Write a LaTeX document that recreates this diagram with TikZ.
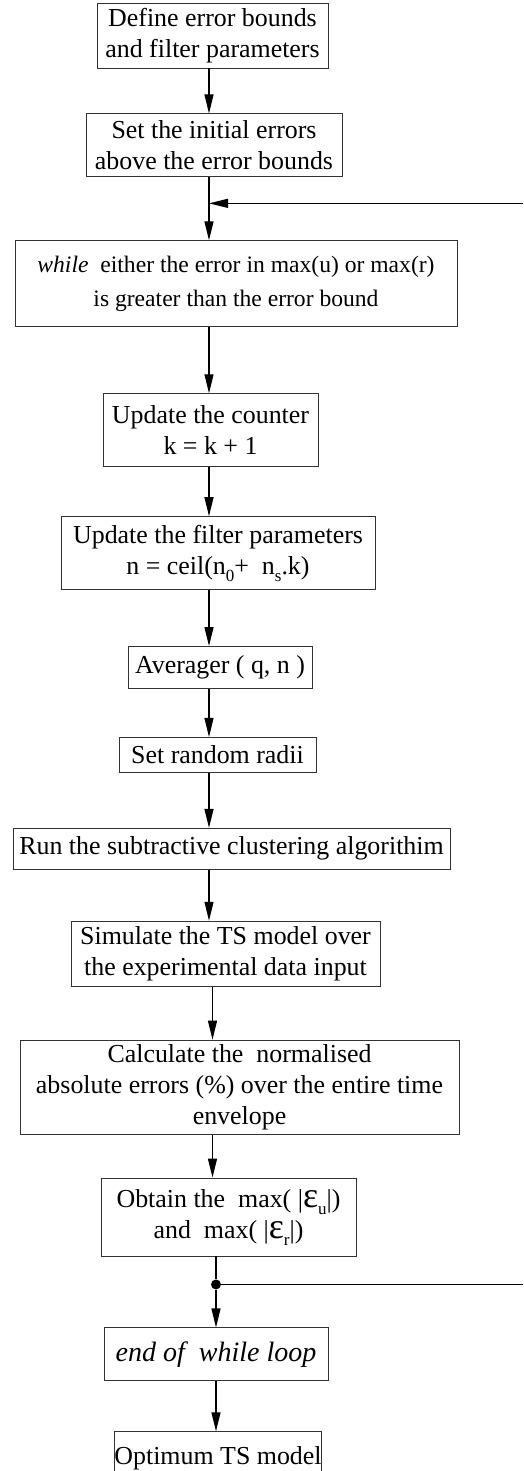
\documentclass[tikz,border=0pt]{standalone}
\usepackage{fontspec}
\setmainfont{Liberation Serif}
\usepackage{tikz}
\usetikzlibrary{positioning,arrows.meta}
\newcommand{\boxfont}{\fontsize{25.9pt}{31pt}\selectfont}
\newcommand{\whilefont}{\fontsize{23.6pt}{34pt}\selectfont}
\newcommand{\loopendfont}{\fontsize{28pt}{32pt}\selectfont}
\newcommand{\eps}{{\fontsize{36pt}{36pt}\selectfont ε}}
\newcommand{\lowsub}[1]{\raisebox{-7pt}{\fontsize{17pt}{17pt}\selectfont #1}}

\begin{document}
\begin{tikzpicture}[x=1pt, y=1pt,
  box/.style={draw=black!80, line width=0.9pt, align=center, inner sep=0pt, font=\boxfont},
  arr/.style={-{Triangle[length=19pt, width=9pt]}, line width=1.2pt},
  dot/.style={circle, fill=black, inner sep=0pt, minimum size=10pt}]
\useasboundingbox (0,0) rectangle (523,-1471);
\clip (0,0) rectangle (523,-1471);
\coordinate (ax) at (209,0); \coordinate (axm) at (212.5,0); \coordinate (axb) at (216,0);
\coordinate (ret) at (545,0);
\node[box, minimum width=231pt, minimum height=65pt] (bounds) at (212.5,-35.5) {Define error bounds\\and filter parameters};
\node[box, minimum width=256pt, minimum height=63pt, below=45pt of bounds, xshift=1.5pt] (initerr) {Set the initial errors\\above the error bounds};
\node[box, font=\whilefont, minimum width=442pt, minimum height=86pt, below=63pt of initerr, xshift=22pt] (whilehd) {\textit{while}\ \ either the error in max(u) or max(r)\\is greater than the error bound};
\node[box, minimum width=215pt, minimum height=73pt, below=66pt of whilehd, xshift=-25.5pt] (counter) {Update the counter\\k = k + 1};
\node[box, minimum width=314pt, minimum height=73pt, below=49pt of counter, xshift=7.5pt] (filtpar) {Update the filter parameters\\n = ceil(n\lowsub{0}+\ \ n\lowsub{s}.k)};
\node[box, minimum width=184pt, minimum height=42pt, below=56pt of filtpar, xshift=2pt] (avg) {Averager ( q, n )};
\node[box, minimum width=197pt, minimum height=35pt, below=48pt of avg, xshift=-2.5pt] (radii) {Set random radii};
\node[box, minimum width=437pt, minimum height=41pt, below=55pt of radii, xshift=14pt] (clust) {Run the subtractive clustering algorithim};
\node[box, minimum width=309pt, minimum height=65pt, below=51pt of clust, xshift=-6pt] (simts) {Simulate the TS model over\\the experimental data input};
\node[box, minimum width=439pt, minimum height=94pt, below=53pt of simts, xshift=14pt] (abserr) {Calculate the\ \ normalised\\absolute errors (\%) over the entire time\\envelope};
\node[box, minimum width=255pt, minimum height=78pt, below=43pt of abserr, xshift=-11pt] (maxerr) {Obtain the\ \ max( |\eps\lowsub{u}|)\\and\ \ max( |\eps\lowsub{r}|)};
\node[box, font=\loopendfont, minimum width=224pt, minimum height=53pt, below=71pt of maxerr, xshift=-12.5pt] (endwh) {\textit{end of\ \ while loop}};
\node[box, minimum width=198pt, minimum height=52pt, below=50pt of endwh, xshift=2pt] (optts) {Optimum TS model};
\path (maxerr.south -| axb) ++(0,-28) node[dot] (jn) {};
\path (initerr.south -| ax) ++(0,-26) coordinate (merge);
\draw[arr] (bounds.south -| ax) -- (initerr.north -| ax);
\draw[arr] (initerr.south -| ax) -- (whilehd.north -| ax);
\draw[arr] (whilehd.south -| ax) -- (counter.north -| ax);
\draw[arr] (counter.south -| ax) -- (filtpar.north -| ax);
\draw[arr] (filtpar.south -| ax) -- (avg.north -| ax);
\draw[arr] (avg.south -| ax) -- (radii.north -| ax);
\draw[arr] (radii.south -| ax) -- (clust.north -| ax);
\draw[arr] (clust.south -| ax) -- (simts.north -| ax);
\draw[arr] (simts.south -| axm) -- (abserr.north -| axm);
\draw[arr] (abserr.south -| axm) -- (maxerr.north -| axm);
\draw[line width=1.2pt] (maxerr.south -| axb) -- (jn);
\draw[arr] (jn) -- (endwh.north -| axb);
\draw[arr] (endwh.south -| axb) -- (optts.north -| axb);
\draw[arr] (jn) -- (jn -| ret) |- (merge);
\end{tikzpicture}
\end{document}
